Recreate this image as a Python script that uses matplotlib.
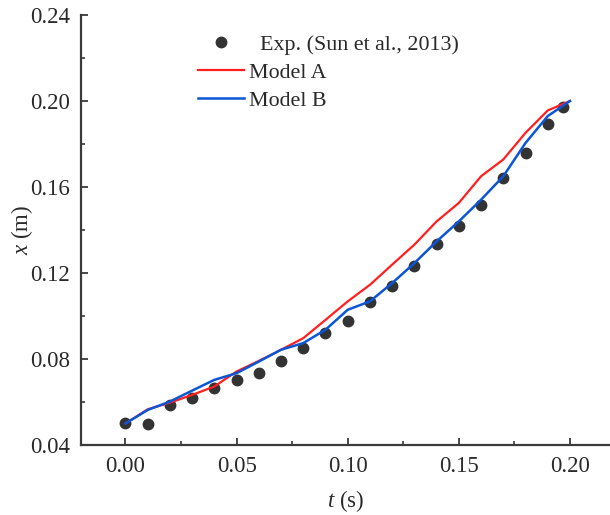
import matplotlib
matplotlib.use("Agg")
import matplotlib.pyplot as plt
from matplotlib.ticker import MultipleLocator, FormatStrFormatter

plt.rcParams['font.family'] = ['Liberation Serif', 'DejaVu Serif']
plt.rcParams['mathtext.fontset'] = 'custom'
plt.rcParams['mathtext.it'] = 'Liberation Serif:italic'
plt.rcParams['mathtext.rm'] = 'Liberation Serif'

# Experimental data (Sun et al., 2013)
t_exp = [0.00, 0.01, 0.02, 0.03, 0.04, 0.05, 0.06, 0.07, 0.08, 0.09, 0.10,
         0.11, 0.12, 0.13, 0.14, 0.15, 0.16, 0.17, 0.18, 0.19, 0.197]
x_exp = [0.0501, 0.0500, 0.0586, 0.0620, 0.0664, 0.0703, 0.0734, 0.0790,
         0.0852, 0.0920, 0.0978, 0.1066, 0.1141, 0.1231, 0.1335, 0.1420,
         0.1518, 0.1641, 0.1760, 0.1891, 0.1973]

# Model curves
t_model = [0.00, 0.01, 0.02, 0.03, 0.04, 0.05, 0.06, 0.07, 0.08, 0.09, 0.10,
           0.11, 0.12, 0.13, 0.14, 0.15, 0.16, 0.17, 0.18, 0.19, 0.20]
x_model_a = [0.0500, 0.0566, 0.0597, 0.0633, 0.0672, 0.0742, 0.0791, 0.0843,
             0.0897, 0.0982, 0.1068, 0.1145, 0.1239, 0.1332, 0.1440, 0.1526,
             0.1650, 0.1728, 0.1852, 0.1956, 0.2000]
x_model_b = [0.0500, 0.0563, 0.0602, 0.0653, 0.0703, 0.0734, 0.0788, 0.0843,
             0.0874, 0.0936, 0.1029, 0.1068, 0.1153, 0.1246, 0.1347, 0.1440,
             0.1541, 0.1650, 0.1805, 0.1930, 0.2000]

x_ticks = [0.00, 0.05, 0.10, 0.15, 0.20]
y_ticks = [0.04, 0.08, 0.12, 0.16, 0.20, 0.24]

fig = plt.figure(figsize=(6.10, 5.15), dpi=100)
ax = fig.add_axes([81/610, 70/515, 529/610, 430/515])

ax.plot(t_exp, x_exp, 'o', color='#333333', markersize=7.5, zorder=2,
        label='  Exp. (Sun et al., 2013)')
ax.plot(t_model, x_model_a, '-', color='#ff1f1f', lw=1.6, zorder=3, label='Model A')
ax.plot(t_model, x_model_b, '-', color='#0a55d8', lw=1.8, zorder=4, label='Model B')

ax.set_xlim(-0.02, 0.218)
ax.set_ylim(0.04, 0.24)
ax.set_xticks(x_ticks)
ax.set_yticks(y_ticks)
ax.xaxis.set_major_formatter(FormatStrFormatter('%.2f'))
ax.yaxis.set_major_formatter(FormatStrFormatter('%.2f'))
ax.xaxis.set_minor_locator(MultipleLocator(0.025))
ax.yaxis.set_minor_locator(MultipleLocator(0.02))

for side in ['top', 'right']:
    ax.spines[side].set_visible(False)
for side in ['left', 'bottom']:
    ax.spines[side].set_linewidth(1.6)
    ax.spines[side].set_color('#3a3a3a')

ax.tick_params(which='major', direction='in', length=5, width=1.3,
               colors='#3a3a3a', labelsize=16.5, labelcolor='#2a2a2a', pad=8)
ax.tick_params(which='minor', direction='in', length=3, width=1.2, colors='#3a3a3a')

ax.set_xlabel(r'$\mathit{t}$ (s)', fontsize=16.5, color='#2a2a2a', labelpad=8)
ax.set_ylabel(r'$\mathit{x}$ (m)', fontsize=16.5, color='#2a2a2a', labelpad=-4)

leg = ax.legend(loc='upper left', bbox_to_anchor=(0.221, 0.954), frameon=False,
                fontsize=15.8, handlelength=2.1, handletextpad=0.25,
                labelspacing=0.34, borderpad=0, borderaxespad=0)
for txt in leg.get_texts():
    txt.set_color('#2a2a2a')

fig.savefig('out.png', dpi=100)
